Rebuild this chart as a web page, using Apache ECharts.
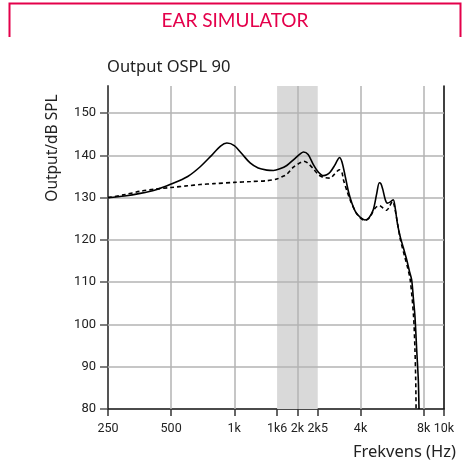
<!DOCTYPE html>
<html>
<head>
<meta charset="utf-8">
<script src="https://cdn.jsdelivr.net/npm/echarts@6/dist/echarts.min.js"></script>
<style>
html,body{margin:0;padding:0;background:#fff;}
#chart{width:462px;height:461px;}
</style>
</head>
<body>
<div id="chart"></div>
<script>
// ---- data ----
const solidFreq = [250,300,356,420,500,600,688,780,860,922,1000,1090,1190,1300,1430,1537,1650,1780,1920,2070,2137,2250,2384,2520,2660,2760,2862,3000,3100,3171,3260,3375,3500,3632,3800,3990,4200,4400,4604,4780,4915,5000,5103,5250,5366,5550,5730,5840,6000,6200,6397,6640,6850,7010,7150,7270,7410,7540,7600];
const solidDb   = [130.0,130.4,131.0,131.8,133.2,135.0,137.3,140.0,142.2,142.9,142.3,140.3,138.2,137.0,136.5,136.4,136.8,137.6,139.0,140.4,140.8,140.2,137.8,136.0,135.2,135.4,136.0,137.5,138.8,139.5,138.5,135.2,131.5,128.8,126.5,125.3,124.7,125.3,127.2,131.0,133.5,133.3,132.0,129.5,128.7,129.0,129.5,127.8,123.8,120.5,118.2,115.3,112.5,110.6,106.0,101.9,94.0,87.0,80.0];
const dashFreq  = [250,300,356,420,500,600,688,800,1000,1200,1429,1595,1700,1780,1914,2070,2150,2250,2384,2520,2660,2862,3000,3171,3260,3313,3450,3565,3800,3990,4200,4400,4690,4915,5100,5330,5500,5690,5800,6000,6200,6500,6700,6900,7160,7270,7330,7360];
const dashDb    = [130.0,130.7,131.5,132.0,132.4,132.8,133.1,133.3,133.6,133.8,134.0,134.4,135.0,135.5,137.2,138.3,138.6,138.1,136.8,135.4,134.8,134.6,135.5,136.6,136.0,134.3,131.5,129.5,126.5,125.2,124.6,125.2,127.5,128.1,127.6,127.0,128.0,129.1,128.0,124.0,120.0,116.0,113.5,110.6,101.9,94.0,87.0,80.0];
const xTickValues = [250,500,1000,1600,2000,2500,4000,8000,10000];
const xTickLabels = ['250','500','1k','1k6','2k','2k5','4k','8k','10k'];
const xGridValues = [500,1000,2000,4000,8000];
const yTickValues = [80,90,100,110,120,130,140,150];
const yGridValues = [90,100,110,120,130,140,150];
const bandRange = [1600,2500];
const titleText = 'EAR SIMULATOR';
const subTitleText = 'Output OSPL 90';
const yName = 'Output/dB SPL';
const xName = 'Frekvens (Hz)';

const RED = '#e4004b';
const chart = echarts.init(document.getElementById('chart'), null, {renderer:'canvas'});

function xLabel(v){
  let best = 0, d = Infinity;
  xTickValues.forEach((t,i)=>{ const dd = Math.abs(Math.log(v/t)); if(dd<d){d=dd;best=i;} });
  return xTickLabels[best];
}

const option = {
  animation:false,
  grid:{left:108, right:18, top:86, bottom:52, containLabel:false},
  xAxis:{
    type:'log', logBase:10, min:250, max:10000,
    axisLine:{show:true, lineStyle:{color:'#111', width:1.5}},
    axisTick:{show:true, length:7, customValues:xTickValues, lineStyle:{color:'#333', width:1.5}},
    axisLabel:{customValues:xTickValues, formatter:xLabel, margin:13, color:'#222', fontSize:12.5, fontFamily:'Roboto', hideOverlap:false},
    splitLine:{show:false}, minorTick:{show:false}, minorSplitLine:{show:false}
  },
  yAxis:[{
    type:'value', min:80, max:156.4, interval:10,
    axisLine:{show:true, lineStyle:{color:'#555', width:2}},
    axisTick:{show:true, length:8, customValues:yTickValues, lineStyle:{color:'#555', width:1.5}},
    axisLabel:{customValues:yTickValues, margin:12, color:'#222', fontSize:13, fontFamily:'Roboto'},
    splitLine:{show:false}
  },{
    type:'value', min:80, max:156.4, position:'right',
    axisLine:{show:true, lineStyle:{color:'#000', width:1.5}},
    axisTick:{show:false}, axisLabel:{show:false}, splitLine:{show:false}
  }],
  graphic:[
    {type:'polyline', shape:{points:[[9.5,37],[9.5,3.5],[460.5,3.5],[460.5,37]]}, style:{stroke:RED, lineWidth:2, fill:null}, silent:true},
    {type:'text', x:235, y:21, style:{text:titleText, fill:RED, font:'19px Lato', textAlign:'center', textVerticalAlign:'middle'}},
    {type:'text', x:107, y:67, style:{text:subTitleText, fill:'#222', font:'16.5px "Noto Sans"', textAlign:'left', textVerticalAlign:'middle'}},
    {type:'text', x:53, y:148, rotation:Math.PI/2, style:{text:yName, fill:'#222', font:'15.5px "Noto Sans"', textAlign:'center', textVerticalAlign:'middle'}},
    {type:'text', x:456, y:452, style:{text:xName, fill:'#222', font:'16.5px "Noto Sans"', textAlign:'right', textVerticalAlign:'middle'}}
  ],
  series:[
    {
      type:'line', data:[], z:1, silent:true,
      markArea:{silent:true, z:1, itemStyle:{color:'#d9d9d9'}, data:[[{xAxis:bandRange[0]},{xAxis:bandRange[1]}]]}
    },
    {
      type:'line', data:[], z:2, silent:true,
      markLine:{silent:true, z:2, symbol:['none','none'], label:{show:false}, animation:false,
        lineStyle:{color:'#b3b3b3', width:1.5, type:'solid'},
        emphasis:{disabled:true},
        data:[...xGridValues.map(v=>({xAxis:v})), ...yGridValues.map(v=>({yAxis:v}))]}
    },
    {
      type:'line', z:10, data:solidFreq.map((f,i)=>[f,solidDb[i]]), showSymbol:false, smooth:0.3,
      lineStyle:{color:'#000', width:1.6}
    },
    {
      type:'line', z:10, data:dashFreq.map((f,i)=>[f,dashDb[i]]), showSymbol:false, smooth:0.3,
      lineStyle:{color:'#000', width:1.6, type:[4,3]}
    }
  ]
};
chart.setOption(option);
</script>
</body>
</html>
